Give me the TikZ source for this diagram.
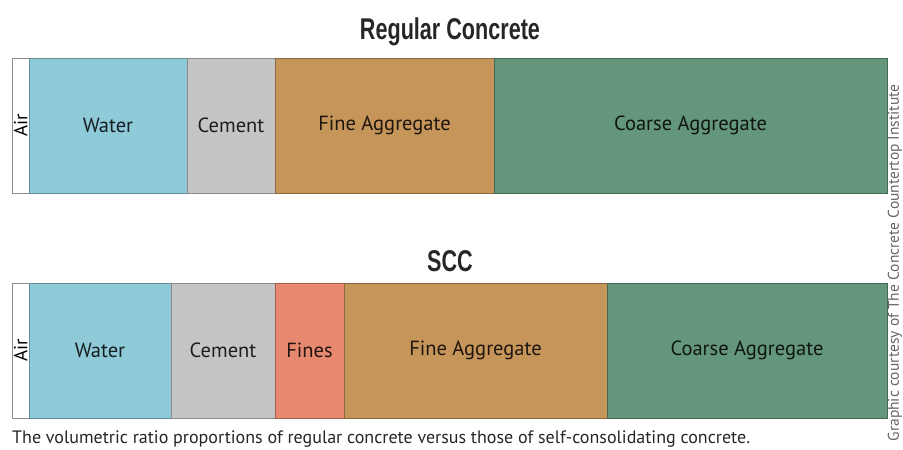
\documentclass[tikz,border=0pt]{standalone}
\usepackage{fontspec}
\setmainfont{PT Sans}
\newfontfamily\headfont[FakeStretch=0.72]{Liberation Sans}
\usetikzlibrary{positioning}

\definecolor{waterblue}{HTML}{8FCAD9}
\definecolor{cementgray}{HTML}{C5C5C7}
\definecolor{finesred}{HTML}{E6896F}
\definecolor{sandbrown}{HTML}{C6955A}
\definecolor{gravelgreen}{HTML}{64967B}

\begin{document}
\begin{tikzpicture}[
			x=1pt, y=-1pt,
			node distance = 0pt,
			seg/.style = {rectangle, draw=#1!70!black, fill=#1, line width=0.9pt,
					minimum height=135pt, inner sep=0pt, outer sep=0pt,
					text=#1!15!black, font=\fontsize{20.5}{24}\selectfont},
			airseg/.style = {rectangle, draw=black!45, fill=white, line width=0.9pt,
					minimum width=17pt, minimum height=135pt, inner sep=0pt, outer sep=0pt},
			title/.style = {font=\headfont\bfseries\fontsize{30}{34}\selectfont, text=black!85},
		]
		\useasboundingbox (0,0) rectangle (903,450);

		% Regular concrete bar
		\node [title] (regtitle) at (450,32) {Regular Concrete};
		\node [airseg, anchor=north west,
			label={[rotate=90, font=\fontsize{19}{22}\selectfont]center:Air}] (regair) at (12,58) {};
		\node [seg=waterblue, minimum width=158pt, right=of regair] (regwater) {Water};
		\node [seg=cementgray, minimum width=88pt, right=of regwater] (regcement) {Cement};
		\node [seg=sandbrown, minimum width=219pt, right=of regcement] (regfine) {Fine Aggregate};
		\node [seg=gravelgreen, minimum width=393pt, right=of regfine] (regcoarse) {Coarse Aggregate};

		% SCC bar
		\node [title] (scctitle) at (450,261) {SCC};
		\node [airseg, anchor=north west,
			label={[rotate=90, font=\fontsize{19}{22}\selectfont]center:Air}] (sccair) at (12,283) {};
		\node [seg=waterblue, minimum width=142pt, right=of sccair] (sccwater) {Water};
		\node [seg=cementgray, minimum width=104pt, right=of sccwater] (scccement) {Cement};
		\node [seg=finesred, minimum width=69pt, right=of scccement] (sccfines) {Fines};
		\node [seg=sandbrown, minimum width=263pt, right=of sccfines] (sccfine) {Fine Aggregate};
		\node [seg=gravelgreen, minimum width=280pt, right=of sccfine] (scccoarse) {Coarse Aggregate};

		% Caption and credit
		\node [anchor=base west, inner sep=0pt, font=\fontsize{18}{21}\selectfont, text=black!85]
			(caption) at (12,443) {The volumetric ratio proportions of regular concrete versus those of self-consolidating concrete.};
		\node [rotate=90, inner sep=0pt, font=\fontsize{15.5}{18}\selectfont, text=black!60]
			(credit) at (895,263) {Graphic courtesy of The Concrete Countertop Institute};
	\end{tikzpicture}
\end{document}
